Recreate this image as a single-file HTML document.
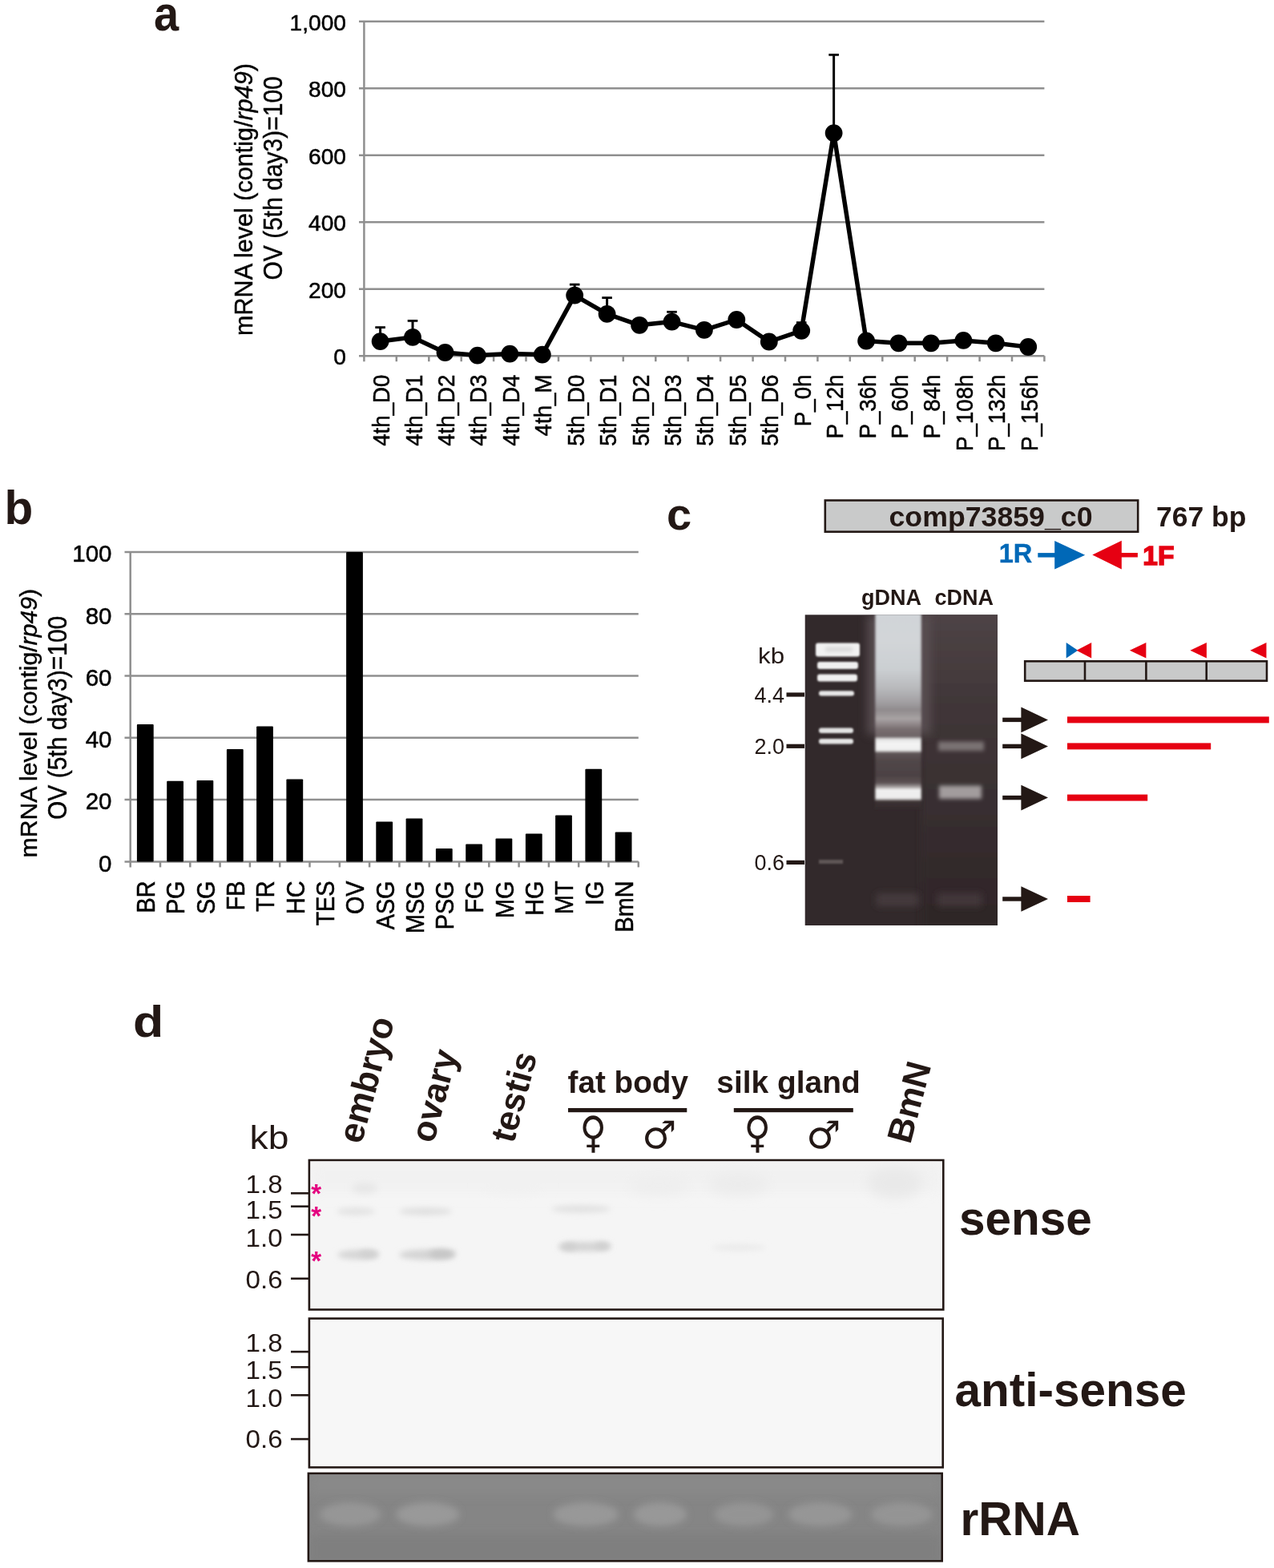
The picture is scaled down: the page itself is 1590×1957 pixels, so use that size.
<!DOCTYPE html>
<html><head><meta charset="utf-8"><title>Figure</title>
<style>
html,body{margin:0;padding:0;background:#fff;}
body{width:1590px;height:1957px;overflow:hidden;}
svg{display:block;font-family:"Liberation Sans", Arial, Helvetica, sans-serif;}
</style></head>
<body>
<svg width="1590" height="1957" viewBox="0 0 1590 1957">
<line x1="448" y1="444.2" x2="1303.4" y2="444.2" stroke="#8f8f8f" stroke-width="2.5"/>
<line x1="448" y1="360.7" x2="1303.4" y2="360.7" stroke="#8f8f8f" stroke-width="2.5"/>
<line x1="448" y1="277.2" x2="1303.4" y2="277.2" stroke="#8f8f8f" stroke-width="2.5"/>
<line x1="448" y1="193.7" x2="1303.4" y2="193.7" stroke="#8f8f8f" stroke-width="2.5"/>
<line x1="448" y1="110.2" x2="1303.4" y2="110.2" stroke="#8f8f8f" stroke-width="2.5"/>
<line x1="448" y1="26.7" x2="1303.4" y2="26.7" stroke="#8f8f8f" stroke-width="2.5"/>
<line x1="454.4" y1="26.7" x2="454.4" y2="451.2" stroke="#8f8f8f" stroke-width="2.5"/>
<line x1="494.8" y1="444.2" x2="494.8" y2="451.2" stroke="#8f8f8f" stroke-width="2.5"/>
<line x1="535.3" y1="444.2" x2="535.3" y2="451.2" stroke="#8f8f8f" stroke-width="2.5"/>
<line x1="575.7" y1="444.2" x2="575.7" y2="451.2" stroke="#8f8f8f" stroke-width="2.5"/>
<line x1="616.1" y1="444.2" x2="616.1" y2="451.2" stroke="#8f8f8f" stroke-width="2.5"/>
<line x1="656.5" y1="444.2" x2="656.5" y2="451.2" stroke="#8f8f8f" stroke-width="2.5"/>
<line x1="697.0" y1="444.2" x2="697.0" y2="451.2" stroke="#8f8f8f" stroke-width="2.5"/>
<line x1="737.4" y1="444.2" x2="737.4" y2="451.2" stroke="#8f8f8f" stroke-width="2.5"/>
<line x1="777.8" y1="444.2" x2="777.8" y2="451.2" stroke="#8f8f8f" stroke-width="2.5"/>
<line x1="818.3" y1="444.2" x2="818.3" y2="451.2" stroke="#8f8f8f" stroke-width="2.5"/>
<line x1="858.7" y1="444.2" x2="858.7" y2="451.2" stroke="#8f8f8f" stroke-width="2.5"/>
<line x1="899.1" y1="444.2" x2="899.1" y2="451.2" stroke="#8f8f8f" stroke-width="2.5"/>
<line x1="939.6" y1="444.2" x2="939.6" y2="451.2" stroke="#8f8f8f" stroke-width="2.5"/>
<line x1="980.0" y1="444.2" x2="980.0" y2="451.2" stroke="#8f8f8f" stroke-width="2.5"/>
<line x1="1020.4" y1="444.2" x2="1020.4" y2="451.2" stroke="#8f8f8f" stroke-width="2.5"/>
<line x1="1060.8" y1="444.2" x2="1060.8" y2="451.2" stroke="#8f8f8f" stroke-width="2.5"/>
<line x1="1101.3" y1="444.2" x2="1101.3" y2="451.2" stroke="#8f8f8f" stroke-width="2.5"/>
<line x1="1141.7" y1="444.2" x2="1141.7" y2="451.2" stroke="#8f8f8f" stroke-width="2.5"/>
<line x1="1182.1" y1="444.2" x2="1182.1" y2="451.2" stroke="#8f8f8f" stroke-width="2.5"/>
<line x1="1222.6" y1="444.2" x2="1222.6" y2="451.2" stroke="#8f8f8f" stroke-width="2.5"/>
<line x1="1263.0" y1="444.2" x2="1263.0" y2="451.2" stroke="#8f8f8f" stroke-width="2.5"/>
<line x1="1303.4" y1="444.2" x2="1303.4" y2="451.2" stroke="#8f8f8f" stroke-width="2.5"/>
<text transform="translate(432.0,455.4) scale(1.02,1.0)" font-size="27.6" font-weight="normal" text-anchor="end" fill="#000"  stroke="#000" stroke-width="0.5" style="">0</text>
<text transform="translate(432.0,371.9) scale(1.02,1.0)" font-size="27.6" font-weight="normal" text-anchor="end" fill="#000"  stroke="#000" stroke-width="0.5" style="">200</text>
<text transform="translate(432.0,288.4) scale(1.02,1.0)" font-size="27.6" font-weight="normal" text-anchor="end" fill="#000"  stroke="#000" stroke-width="0.5" style="">400</text>
<text transform="translate(432.0,204.9) scale(1.02,1.0)" font-size="27.6" font-weight="normal" text-anchor="end" fill="#000"  stroke="#000" stroke-width="0.5" style="">600</text>
<text transform="translate(432.0,121.4) scale(1.02,1.0)" font-size="27.6" font-weight="normal" text-anchor="end" fill="#000"  stroke="#000" stroke-width="0.5" style="">800</text>
<text transform="translate(432.0,37.9) scale(1.02,1.0)" font-size="27.6" font-weight="normal" text-anchor="end" fill="#000"  stroke="#000" stroke-width="0.5" style="">1,000</text>
<text transform="translate(315.3,419.0) rotate(-90)" font-size="30.6" font-weight="normal" text-anchor="start" fill="#000" stroke="#000" stroke-width="0.4" style="">mRNA level (contig/<tspan font-style="italic">rp49</tspan>)</text>
<text transform="translate(351.6,349.5) rotate(-90) scale(1,1.08)" font-size="30.0" font-weight="normal" text-anchor="start" fill="#000" stroke="#000" stroke-width="0.4" style="">OV (5th day3)=100</text>
<line x1="474.6" y1="408.6" x2="474.6" y2="426.1" stroke="#000" stroke-width="3"/>
<line x1="468.3" y1="408.6" x2="480.9" y2="408.6" stroke="#000" stroke-width="2.8"/>
<line x1="515.0" y1="400.4" x2="515.0" y2="420.9" stroke="#000" stroke-width="3"/>
<line x1="508.7" y1="400.4" x2="521.3" y2="400.4" stroke="#000" stroke-width="2.8"/>
<line x1="717.2" y1="355.1" x2="717.2" y2="368.6" stroke="#000" stroke-width="3"/>
<line x1="710.9" y1="355.1" x2="723.5" y2="355.1" stroke="#000" stroke-width="2.8"/>
<line x1="757.6" y1="371.6" x2="757.6" y2="391.9" stroke="#000" stroke-width="3"/>
<line x1="751.3" y1="371.6" x2="763.9" y2="371.6" stroke="#000" stroke-width="2.8"/>
<line x1="838.5" y1="389.3" x2="838.5" y2="401.6" stroke="#000" stroke-width="3"/>
<line x1="832.2" y1="389.3" x2="844.8" y2="389.3" stroke="#000" stroke-width="2.8"/>
<line x1="1000.2" y1="402.6" x2="1000.2" y2="412.8" stroke="#000" stroke-width="3"/>
<line x1="993.9" y1="402.6" x2="1006.5" y2="402.6" stroke="#000" stroke-width="2.8"/>
<line x1="1040.6" y1="68.4" x2="1040.6" y2="166.1" stroke="#000" stroke-width="3"/>
<line x1="1034.3" y1="68.4" x2="1046.9" y2="68.4" stroke="#000" stroke-width="2.8"/>
<polyline points="474.6,426.1 515.0,420.9 555.5,440.0 595.9,443.6 636.3,441.6 676.8,442.6 717.2,368.6 757.6,391.9 798.1,405.8 838.5,401.6 878.9,411.8 919.3,399.0 959.8,426.5 1000.2,412.8 1040.6,166.1 1081.1,425.5 1121.5,428.3 1161.9,428.3 1202.4,424.9 1242.8,428.3 1283.2,433.0" fill="none" stroke="#000" stroke-width="5.5" stroke-linejoin="round"/>
<circle cx="474.6" cy="426.1" r="10.9" fill="#000"/>
<circle cx="515.0" cy="420.9" r="10.9" fill="#000"/>
<circle cx="555.5" cy="440.0" r="10.9" fill="#000"/>
<circle cx="595.9" cy="443.6" r="10.9" fill="#000"/>
<circle cx="636.3" cy="441.6" r="10.9" fill="#000"/>
<circle cx="676.8" cy="442.6" r="10.9" fill="#000"/>
<circle cx="717.2" cy="368.6" r="10.9" fill="#000"/>
<circle cx="757.6" cy="391.9" r="10.9" fill="#000"/>
<circle cx="798.1" cy="405.8" r="10.9" fill="#000"/>
<circle cx="838.5" cy="401.6" r="10.9" fill="#000"/>
<circle cx="878.9" cy="411.8" r="10.9" fill="#000"/>
<circle cx="919.3" cy="399.0" r="10.9" fill="#000"/>
<circle cx="959.8" cy="426.5" r="10.9" fill="#000"/>
<circle cx="1000.2" cy="412.8" r="10.9" fill="#000"/>
<circle cx="1040.6" cy="166.1" r="10.9" fill="#000"/>
<circle cx="1081.1" cy="425.5" r="10.9" fill="#000"/>
<circle cx="1121.5" cy="428.3" r="10.9" fill="#000"/>
<circle cx="1161.9" cy="428.3" r="10.9" fill="#000"/>
<circle cx="1202.4" cy="424.9" r="10.9" fill="#000"/>
<circle cx="1242.8" cy="428.3" r="10.9" fill="#000"/>
<circle cx="1283.2" cy="433.0" r="10.9" fill="#000"/>
<text transform="translate(486.1,467.5) rotate(-90) scale(1,1.05)" font-size="27.7" font-weight="normal" text-anchor="end" fill="#000" stroke="#000" stroke-width="0.5" style="">4th_D0</text>
<text transform="translate(526.5,467.5) rotate(-90) scale(1,1.05)" font-size="27.7" font-weight="normal" text-anchor="end" fill="#000" stroke="#000" stroke-width="0.5" style="">4th_D1</text>
<text transform="translate(567.0,467.5) rotate(-90) scale(1,1.05)" font-size="27.7" font-weight="normal" text-anchor="end" fill="#000" stroke="#000" stroke-width="0.5" style="">4th_D2</text>
<text transform="translate(607.4,467.5) rotate(-90) scale(1,1.05)" font-size="27.7" font-weight="normal" text-anchor="end" fill="#000" stroke="#000" stroke-width="0.5" style="">4th_D3</text>
<text transform="translate(647.8,467.5) rotate(-90) scale(1,1.05)" font-size="27.7" font-weight="normal" text-anchor="end" fill="#000" stroke="#000" stroke-width="0.5" style="">4th_D4</text>
<text transform="translate(688.3,467.5) rotate(-90) scale(1,1.05)" font-size="27.7" font-weight="normal" text-anchor="end" fill="#000" stroke="#000" stroke-width="0.5" style="">4th_M</text>
<text transform="translate(728.7,467.5) rotate(-90) scale(1,1.05)" font-size="27.7" font-weight="normal" text-anchor="end" fill="#000" stroke="#000" stroke-width="0.5" style="">5th_D0</text>
<text transform="translate(769.1,467.5) rotate(-90) scale(1,1.05)" font-size="27.7" font-weight="normal" text-anchor="end" fill="#000" stroke="#000" stroke-width="0.5" style="">5th_D1</text>
<text transform="translate(809.6,467.5) rotate(-90) scale(1,1.05)" font-size="27.7" font-weight="normal" text-anchor="end" fill="#000" stroke="#000" stroke-width="0.5" style="">5th_D2</text>
<text transform="translate(850.0,467.5) rotate(-90) scale(1,1.05)" font-size="27.7" font-weight="normal" text-anchor="end" fill="#000" stroke="#000" stroke-width="0.5" style="">5th_D3</text>
<text transform="translate(890.4,467.5) rotate(-90) scale(1,1.05)" font-size="27.7" font-weight="normal" text-anchor="end" fill="#000" stroke="#000" stroke-width="0.5" style="">5th_D4</text>
<text transform="translate(930.8,467.5) rotate(-90) scale(1,1.05)" font-size="27.7" font-weight="normal" text-anchor="end" fill="#000" stroke="#000" stroke-width="0.5" style="">5th_D5</text>
<text transform="translate(971.3,467.5) rotate(-90) scale(1,1.05)" font-size="27.7" font-weight="normal" text-anchor="end" fill="#000" stroke="#000" stroke-width="0.5" style="">5th_D6</text>
<text transform="translate(1011.7,467.5) rotate(-90) scale(1,1.05)" font-size="27.7" font-weight="normal" text-anchor="end" fill="#000" stroke="#000" stroke-width="0.5" style="">P_0h</text>
<text transform="translate(1052.1,467.5) rotate(-90) scale(1,1.05)" font-size="27.7" font-weight="normal" text-anchor="end" fill="#000" stroke="#000" stroke-width="0.5" style="">P_12h</text>
<text transform="translate(1092.6,467.5) rotate(-90) scale(1,1.05)" font-size="27.7" font-weight="normal" text-anchor="end" fill="#000" stroke="#000" stroke-width="0.5" style="">P_36h</text>
<text transform="translate(1133.0,467.5) rotate(-90) scale(1,1.05)" font-size="27.7" font-weight="normal" text-anchor="end" fill="#000" stroke="#000" stroke-width="0.5" style="">P_60h</text>
<text transform="translate(1173.4,467.5) rotate(-90) scale(1,1.05)" font-size="27.7" font-weight="normal" text-anchor="end" fill="#000" stroke="#000" stroke-width="0.5" style="">P_84h</text>
<text transform="translate(1213.9,467.5) rotate(-90) scale(1,1.05)" font-size="27.7" font-weight="normal" text-anchor="end" fill="#000" stroke="#000" stroke-width="0.5" style="">P_108h</text>
<text transform="translate(1254.3,467.5) rotate(-90) scale(1,1.05)" font-size="27.7" font-weight="normal" text-anchor="end" fill="#000" stroke="#000" stroke-width="0.5" style="">P_132h</text>
<text transform="translate(1294.7,467.5) rotate(-90) scale(1,1.05)" font-size="27.7" font-weight="normal" text-anchor="end" fill="#000" stroke="#000" stroke-width="0.5" style="">P_156h</text>
<text transform="translate(192.0,38.4) scale(1.0,1.1)" font-size="56" font-weight="bold" text-anchor="start" fill="#231815"  style="">a</text>
<line x1="155.5" y1="1075.4" x2="796.8" y2="1075.4" stroke="#8f8f8f" stroke-width="2.5"/>
<line x1="155.5" y1="998.1" x2="796.8" y2="998.1" stroke="#8f8f8f" stroke-width="2.5"/>
<line x1="155.5" y1="920.8" x2="796.8" y2="920.8" stroke="#8f8f8f" stroke-width="2.5"/>
<line x1="155.5" y1="843.5" x2="796.8" y2="843.5" stroke="#8f8f8f" stroke-width="2.5"/>
<line x1="155.5" y1="766.2" x2="796.8" y2="766.2" stroke="#8f8f8f" stroke-width="2.5"/>
<line x1="155.5" y1="688.9" x2="796.8" y2="688.9" stroke="#8f8f8f" stroke-width="2.5"/>
<line x1="162.7" y1="688.9" x2="162.7" y2="1082.4" stroke="#8f8f8f" stroke-width="2.5"/>
<line x1="200.0" y1="1075.4" x2="200.0" y2="1082.4" stroke="#8f8f8f" stroke-width="2.5"/>
<line x1="237.3" y1="1075.4" x2="237.3" y2="1082.4" stroke="#8f8f8f" stroke-width="2.5"/>
<line x1="274.6" y1="1075.4" x2="274.6" y2="1082.4" stroke="#8f8f8f" stroke-width="2.5"/>
<line x1="311.9" y1="1075.4" x2="311.9" y2="1082.4" stroke="#8f8f8f" stroke-width="2.5"/>
<line x1="349.2" y1="1075.4" x2="349.2" y2="1082.4" stroke="#8f8f8f" stroke-width="2.5"/>
<line x1="386.5" y1="1075.4" x2="386.5" y2="1082.4" stroke="#8f8f8f" stroke-width="2.5"/>
<line x1="423.8" y1="1075.4" x2="423.8" y2="1082.4" stroke="#8f8f8f" stroke-width="2.5"/>
<line x1="461.1" y1="1075.4" x2="461.1" y2="1082.4" stroke="#8f8f8f" stroke-width="2.5"/>
<line x1="498.4" y1="1075.4" x2="498.4" y2="1082.4" stroke="#8f8f8f" stroke-width="2.5"/>
<line x1="535.7" y1="1075.4" x2="535.7" y2="1082.4" stroke="#8f8f8f" stroke-width="2.5"/>
<line x1="573.0" y1="1075.4" x2="573.0" y2="1082.4" stroke="#8f8f8f" stroke-width="2.5"/>
<line x1="610.3" y1="1075.4" x2="610.3" y2="1082.4" stroke="#8f8f8f" stroke-width="2.5"/>
<line x1="647.6" y1="1075.4" x2="647.6" y2="1082.4" stroke="#8f8f8f" stroke-width="2.5"/>
<line x1="684.9" y1="1075.4" x2="684.9" y2="1082.4" stroke="#8f8f8f" stroke-width="2.5"/>
<line x1="722.2" y1="1075.4" x2="722.2" y2="1082.4" stroke="#8f8f8f" stroke-width="2.5"/>
<line x1="759.5" y1="1075.4" x2="759.5" y2="1082.4" stroke="#8f8f8f" stroke-width="2.5"/>
<line x1="796.8" y1="1075.4" x2="796.8" y2="1082.4" stroke="#8f8f8f" stroke-width="2.5"/>
<text x="139.5" y="1087.7" font-size="29.5" font-weight="normal" text-anchor="end" fill="#000"  stroke="#000" stroke-width="0.5" style="">0</text>
<text x="139.5" y="1010.4" font-size="29.5" font-weight="normal" text-anchor="end" fill="#000"  stroke="#000" stroke-width="0.5" style="">20</text>
<text x="139.5" y="933.1" font-size="29.5" font-weight="normal" text-anchor="end" fill="#000"  stroke="#000" stroke-width="0.5" style="">40</text>
<text x="139.5" y="855.8" font-size="29.5" font-weight="normal" text-anchor="end" fill="#000"  stroke="#000" stroke-width="0.5" style="">60</text>
<text x="139.5" y="778.5" font-size="29.5" font-weight="normal" text-anchor="end" fill="#000"  stroke="#000" stroke-width="0.5" style="">80</text>
<text x="139.5" y="701.2" font-size="29.5" font-weight="normal" text-anchor="end" fill="#000"  stroke="#000" stroke-width="0.5" style="">100</text>
<rect x="170.9" y="904.1" width="20.8" height="171.3" fill="#000" rx="1"/>
<text transform="translate(193.2,1099.5) rotate(-90) scale(1,1.07)" font-size="28.8" font-weight="normal" text-anchor="end" fill="#000" stroke="#000" stroke-width="0.5" style="">BR</text>
<rect x="208.2" y="974.7" width="20.8" height="100.7" fill="#000" rx="1"/>
<text transform="translate(230.4,1099.5) rotate(-90) scale(1,1.07)" font-size="28.8" font-weight="normal" text-anchor="end" fill="#000" stroke="#000" stroke-width="0.5" style="">PG</text>
<rect x="245.5" y="973.9" width="20.8" height="101.5" fill="#000" rx="1"/>
<text transform="translate(267.8,1099.5) rotate(-90) scale(1,1.07)" font-size="28.8" font-weight="normal" text-anchor="end" fill="#000" stroke="#000" stroke-width="0.5" style="">SG</text>
<rect x="282.9" y="935.0" width="20.8" height="140.4" fill="#000" rx="1"/>
<text transform="translate(305.1,1099.5) rotate(-90) scale(1,1.07)" font-size="28.8" font-weight="normal" text-anchor="end" fill="#000" stroke="#000" stroke-width="0.5" style="">FB</text>
<rect x="320.1" y="906.4" width="20.8" height="169.0" fill="#000" rx="1"/>
<text transform="translate(342.3,1099.5) rotate(-90) scale(1,1.07)" font-size="28.8" font-weight="normal" text-anchor="end" fill="#000" stroke="#000" stroke-width="0.5" style="">TR</text>
<rect x="357.4" y="972.4" width="20.8" height="103.0" fill="#000" rx="1"/>
<text transform="translate(379.6,1099.5) rotate(-90) scale(1,1.07)" font-size="28.8" font-weight="normal" text-anchor="end" fill="#000" stroke="#000" stroke-width="0.5" style="">HC</text>
<text transform="translate(416.9,1099.5) rotate(-90) scale(1,1.07)" font-size="28.8" font-weight="normal" text-anchor="end" fill="#000" stroke="#000" stroke-width="0.5" style="">TES</text>
<rect x="432.1" y="688.9" width="20.8" height="386.5" fill="#000" rx="1"/>
<text transform="translate(454.2,1099.5) rotate(-90) scale(1,1.07)" font-size="28.8" font-weight="normal" text-anchor="end" fill="#000" stroke="#000" stroke-width="0.5" style="">OV</text>
<rect x="469.3" y="1025.4" width="20.8" height="50.0" fill="#000" rx="1"/>
<text transform="translate(491.5,1099.5) rotate(-90) scale(1,1.07)" font-size="28.8" font-weight="normal" text-anchor="end" fill="#000" stroke="#000" stroke-width="0.5" style="">ASG</text>
<rect x="506.6" y="1021.4" width="20.8" height="54.0" fill="#000" rx="1"/>
<text transform="translate(528.8,1099.5) rotate(-90) scale(1,1.07)" font-size="28.8" font-weight="normal" text-anchor="end" fill="#000" stroke="#000" stroke-width="0.5" style="">MSG</text>
<rect x="543.9" y="1058.9" width="20.8" height="16.5" fill="#000" rx="1"/>
<text transform="translate(566.1,1099.5) rotate(-90) scale(1,1.07)" font-size="28.8" font-weight="normal" text-anchor="end" fill="#000" stroke="#000" stroke-width="0.5" style="">PSG</text>
<rect x="581.2" y="1053.6" width="20.8" height="21.8" fill="#000" rx="1"/>
<text transform="translate(603.4,1099.5) rotate(-90) scale(1,1.07)" font-size="28.8" font-weight="normal" text-anchor="end" fill="#000" stroke="#000" stroke-width="0.5" style="">FG</text>
<rect x="618.5" y="1046.5" width="20.8" height="28.9" fill="#000" rx="1"/>
<text transform="translate(640.7,1099.5) rotate(-90) scale(1,1.07)" font-size="28.8" font-weight="normal" text-anchor="end" fill="#000" stroke="#000" stroke-width="0.5" style="">MG</text>
<rect x="655.9" y="1040.6" width="20.8" height="34.8" fill="#000" rx="1"/>
<text transform="translate(678.0,1099.5) rotate(-90) scale(1,1.07)" font-size="28.8" font-weight="normal" text-anchor="end" fill="#000" stroke="#000" stroke-width="0.5" style="">HG</text>
<rect x="693.1" y="1017.5" width="20.8" height="57.9" fill="#000" rx="1"/>
<text transform="translate(715.3,1099.5) rotate(-90) scale(1,1.07)" font-size="28.8" font-weight="normal" text-anchor="end" fill="#000" stroke="#000" stroke-width="0.5" style="">MT</text>
<rect x="730.4" y="959.8" width="20.8" height="115.6" fill="#000" rx="1"/>
<text transform="translate(752.6,1099.5) rotate(-90) scale(1,1.07)" font-size="28.8" font-weight="normal" text-anchor="end" fill="#000" stroke="#000" stroke-width="0.5" style="">IG</text>
<rect x="767.7" y="1038.6" width="20.8" height="36.8" fill="#000" rx="1"/>
<text transform="translate(789.9,1099.5) rotate(-90) scale(1,1.07)" font-size="28.8" font-weight="normal" text-anchor="end" fill="#000" stroke="#000" stroke-width="0.5" style="">BmN</text>
<text transform="translate(45.5,1070.5) rotate(-90)" font-size="30.2" font-weight="normal" text-anchor="start" fill="#000" stroke="#000" stroke-width="0.4" style="">mRNA level (contig/<tspan font-style="italic">rp49</tspan>)</text>
<text transform="translate(83.0,1023.0) rotate(-90) scale(1,1.08)" font-size="30.0" font-weight="normal" text-anchor="start" fill="#000" stroke="#000" stroke-width="0.4" style="">OV (5th day3)=100</text>
<text x="5.5" y="653.5" font-size="58.5" font-weight="bold" text-anchor="start" fill="#231815"  style="">b</text>
<text x="832.0" y="660.5" font-size="56" font-weight="bold" text-anchor="start" fill="#231815"  style="">c</text>
<rect x="1029.8" y="624.5" width="390.4" height="39.2" fill="#c9caca" stroke="#231815" stroke-width="2.6"/>
<text x="1236.5" y="657.2" font-size="35.7" font-weight="bold" text-anchor="middle" fill="#231815"  style="">comp73859_c0</text>
<text x="1443.0" y="657.2" font-size="35.5" font-weight="bold" text-anchor="start" fill="#231815"  style="">767 bp</text>
<text x="1246.8" y="702.3" font-size="32.5" font-weight="bold" text-anchor="start" fill="#0068b7"  stroke="#0068b7" stroke-width="0.4" style="">1R</text>
<text x="1426.3" y="705.3" font-size="33.5" font-weight="bold" text-anchor="start" fill="#e60012"  stroke="#e60012" stroke-width="1.5" style="">1F</text>
<rect x="1295.3" y="690.1" width="22" height="5.5" fill="#0068b7"/>
<polygon points="1316.2,675 1354.2,692.8 1316.2,710.6" fill="#0068b7"/>
<polygon points="1399.8,674.7 1363.3,692.6 1399.8,710.6" fill="#e60012"/>
<rect x="1398.8" y="690.0" width="21.1" height="5.5" fill="#e60012"/>
<text x="1075.0" y="755.3" font-size="27" font-weight="bold" text-anchor="start" fill="#231815"  style="">gDNA</text>
<text x="1166.5" y="755.3" font-size="27" font-weight="bold" text-anchor="start" fill="#231815"  style="">cDNA</text>
<text transform="translate(946.0,827.9) scale(1.12,1.0)" font-size="28" font-weight="normal" text-anchor="start" fill="#231815"  style="">kb</text>
<text x="979.0" y="877.0" font-size="27" font-weight="normal" text-anchor="end" fill="#231815"  style="">4.4</text>
<rect x="981.5" y="864.4" width="22.5" height="5.2" fill="#231815"/>
<text x="979.0" y="941.3" font-size="27" font-weight="normal" text-anchor="end" fill="#231815"  style="">2.0</text>
<rect x="981.5" y="928.7" width="22.5" height="5.2" fill="#231815"/>
<text x="979.0" y="1086.4" font-size="27" font-weight="normal" text-anchor="end" fill="#231815"  style="">0.6</text>
<rect x="981.5" y="1073.8" width="22.5" height="5.2" fill="#231815"/>
<defs>
<filter id="b1" filterUnits="userSpaceOnUse" x="0" y="0" width="1590" height="1957"><feGaussianBlur stdDeviation="1.2"/></filter>
<filter id="b2" filterUnits="userSpaceOnUse" x="0" y="0" width="1590" height="1957"><feGaussianBlur stdDeviation="2.5"/></filter>
<filter id="b3" filterUnits="userSpaceOnUse" x="0" y="0" width="1590" height="1957"><feGaussianBlur stdDeviation="3.5"/></filter>
<filter id="b4" filterUnits="userSpaceOnUse" x="0" y="0" width="1590" height="1957"><feGaussianBlur stdDeviation="4"/></filter>
<filter id="b6" filterUnits="userSpaceOnUse" x="0" y="0" width="1590" height="1957"><feGaussianBlur stdDeviation="6"/></filter>
<filter id="b8" filterUnits="userSpaceOnUse" x="0" y="0" width="1590" height="1957"><feGaussianBlur stdDeviation="8"/></filter>
<filter id="bx" filterUnits="userSpaceOnUse" x="0" y="0" width="1590" height="1957"><feGaussianBlur stdDeviation="1.6 0.8"/></filter>
<linearGradient id="glane" gradientUnits="userSpaceOnUse" x1="0" y1="767" x2="0" y2="1010"><stop offset="0.0000" stop-color="#d0d4d8"/>
<stop offset="0.1358" stop-color="#d2d5d8"/>
<stop offset="0.2798" stop-color="#cbcfd2"/>
<stop offset="0.3745" stop-color="#b9babd"/>
<stop offset="0.4486" stop-color="#a2a0a3"/>
<stop offset="0.4897" stop-color="#908b8d"/>
<stop offset="0.5144" stop-color="#9c9798"/>
<stop offset="0.5350" stop-color="#a8a3a4"/>
<stop offset="0.5556" stop-color="#978f91"/>
<stop offset="0.5885" stop-color="#786e70"/>
<stop offset="0.6255" stop-color="#6e6466"/>
<stop offset="0.6420" stop-color="#e4e4e4"/>
<stop offset="0.6626" stop-color="#f4f4f4"/>
<stop offset="0.6955" stop-color="#efefef"/>
<stop offset="0.7119" stop-color="#5e5456"/>
<stop offset="0.7531" stop-color="#504648"/>
<stop offset="0.8272" stop-color="#4c4244"/>
<stop offset="0.8642" stop-color="#5c5254"/>
<stop offset="0.8848" stop-color="#a29c9c"/>
<stop offset="0.9012" stop-color="#f0f0f0"/>
<stop offset="0.9424" stop-color="#ececec"/>
<stop offset="0.9588" stop-color="#3c3233"/>
<stop offset="1.0000" stop-color="#342a2c"/></linearGradient>
<linearGradient id="clane" gradientUnits="userSpaceOnUse" x1="0" y1="767" x2="0" y2="1010"><stop offset="0.0000" stop-color="#3b3133"/>
<stop offset="0.5473" stop-color="#33292b"/>
<stop offset="0.6379" stop-color="#3a3032"/>
<stop offset="0.6543" stop-color="#6e6667"/>
<stop offset="0.6749" stop-color="#7d7576"/>
<stop offset="0.6996" stop-color="#5a5052"/>
<stop offset="0.7202" stop-color="#342a2c"/>
<stop offset="0.8436" stop-color="#382e30"/>
<stop offset="0.8765" stop-color="#6c6465"/>
<stop offset="0.9012" stop-color="#9e9899"/>
<stop offset="0.9342" stop-color="#a19b9c"/>
<stop offset="0.9547" stop-color="#3c3234"/>
<stop offset="1.0000" stop-color="#33292b"/></linearGradient>
<linearGradient id="rgt" gradientUnits="userSpaceOnUse" x1="0" y1="767" x2="0" y2="1155"><stop offset="0" stop-color="#4e4446"/><stop offset="0.3" stop-color="#403638"/><stop offset="1" stop-color="#2e2527"/></linearGradient>
<clipPath id="gelclip"><rect x="1004.7" y="767.3" width="240.3" height="387.7"/></clipPath>
</defs>
<rect x="1004.7" y="767.3" width="240.3" height="387.7" fill="#32292b"/>
<g clip-path="url(#gelclip)">
<rect x="1150" y="760" width="110" height="400" fill="url(#rgt)" filter="url(#b4)"/>
<rect x="1171" y="925.5" width="57" height="11.5" fill="#7a7273" filter="url(#b2)"/>
<rect x="1172" y="980.5" width="53" height="16.5" fill="#a29c9d" filter="url(#b2)"/>
<rect x="1082" y="767" width="80" height="150" fill="#5a5052" filter="url(#b6)" opacity="0.9"/>
<rect x="1092.3" y="760" width="57.5" height="250" fill="url(#glane)" filter="url(#bx)"/>
<rect x="1094" y="1115" width="52" height="16" fill="#443a3c" filter="url(#b4)"/>
<rect x="1170" y="1115" width="55" height="16" fill="#42383a" filter="url(#b4)"/>
<rect x="1018" y="802.5" width="55" height="17.0" rx="3" fill="#f2f2f2" filter="url(#b1)"/>
<rect x="1020" y="826" width="51" height="9.0" rx="3" fill="#f0f0f0" filter="url(#b1)"/>
<rect x="1020" y="841.5" width="50" height="9.0" rx="3" fill="#f0f0f0" filter="url(#b1)"/>
<rect x="1022" y="862.3" width="44" height="6.2" rx="3" fill="#e8e8e8" filter="url(#b1)"/>
<rect x="1022" y="908.6" width="43" height="6.4" rx="3" fill="#e2e2e2" filter="url(#b1)"/>
<rect x="1022" y="922" width="43" height="6.4" rx="3" fill="#e6e6e6" filter="url(#b1)"/>
<rect x="1030" y="808" width="34" height="5" fill="#d4d4d4" filter="url(#b2)"/>
<rect x="1022" y="1073" width="30" height="5" fill="#5e5657" filter="url(#b1)"/>
</g>
<rect x="1279.2" y="825.3" width="301.8" height="24.4" fill="#c9caca" stroke="#231815" stroke-width="2.6"/>
<line x1="1354.0" y1="825.3" x2="1354.0" y2="849.7" stroke="#231815" stroke-width="2.6"/>
<line x1="1430.4" y1="825.3" x2="1430.4" y2="849.7" stroke="#231815" stroke-width="2.6"/>
<line x1="1505.7" y1="825.3" x2="1505.7" y2="849.7" stroke="#231815" stroke-width="2.6"/>
<polygon points="1330.7,802 1345.2,811.7 1330.7,821.4" fill="#0068b7"/>
<polygon points="1362.2,802 1343.5,811.7 1362.2,821.4" fill="#e60012"/>
<polygon points="1430.4,802 1409.9,811.7 1430.4,821.4" fill="#e60012"/>
<polygon points="1505.9,802 1485.4,811.7 1505.9,821.4" fill="#e60012"/>
<polygon points="1580.5,802 1560.3,811.7 1580.5,821.4" fill="#e60012"/>
<rect x="1251.2" y="895.7" width="25" height="5.4" fill="#231815"/>
<polygon points="1274.4,882.6 1308.0,898.4 1274.4,914.2" fill="#231815"/>
<rect x="1332" y="894.4" width="251.8" height="8" fill="#e60012"/>
<rect x="1251.2" y="928.7" width="25" height="5.4" fill="#231815"/>
<polygon points="1274.4,915.6 1308.0,931.4 1274.4,947.2" fill="#231815"/>
<rect x="1332" y="927.4" width="179.2" height="8" fill="#e60012"/>
<rect x="1251.2" y="992.9" width="25" height="5.4" fill="#231815"/>
<polygon points="1274.4,979.8 1308.0,995.6 1274.4,1011.4" fill="#231815"/>
<rect x="1332" y="991.6" width="100.2" height="8" fill="#e60012"/>
<rect x="1251.2" y="1119.3" width="25" height="5.4" fill="#231815"/>
<polygon points="1274.4,1106.2 1308.0,1122.0 1274.4,1137.8" fill="#231815"/>
<rect x="1332" y="1118.0" width="28.6" height="8" fill="#e60012"/>
<text transform="translate(166.0,1294.3) scale(1.12,1.0)" font-size="56" font-weight="bold" text-anchor="start" fill="#231815"  style="">d</text>
<text transform="translate(311.5,1433.6) scale(1.13,1.0)" font-size="41" font-weight="normal" text-anchor="start" fill="#231815"  style="">kb</text>
<text transform="translate(451.0,1429.0) rotate(-75)" font-size="44.5" font-weight="bold" text-anchor="start" fill="#231815" style="">embryo</text>
<text transform="translate(541.0,1428.0) rotate(-75)" font-size="44" font-weight="bold" text-anchor="start" fill="#231815" style="">ovary</text>
<text transform="translate(641.0,1428.0) rotate(-75)" font-size="43.8" font-weight="bold" text-anchor="start" fill="#231815" style="">testis</text>
<text transform="translate(1136.0,1429.0) rotate(-75)" font-size="44" font-weight="bold" text-anchor="start" fill="#231815" style="">BmN</text>
<text x="783.8" y="1364.0" font-size="38.7" font-weight="bold" text-anchor="middle" fill="#231815"  style="">fat body</text>
<text x="984.0" y="1364.0" font-size="38.9" font-weight="bold" text-anchor="middle" fill="#231815"  style="">silk gland</text>
<rect x="709" y="1383" width="148.3" height="5.2" fill="#231815"/>
<rect x="915.8" y="1383" width="149" height="5.2" fill="#231815"/>
<text transform="translate(740.3,1431.5) scale(0.95,1.136)" font-size="48" font-weight="normal" text-anchor="middle" fill="#231815"  style="font-family:DejaVu Sans">&#9792;</text>
<text transform="translate(945.3,1431.5) scale(0.95,1.136)" font-size="48" font-weight="normal" text-anchor="middle" fill="#231815"  style="font-family:DejaVu Sans">&#9792;</text>
<text x="822.8" y="1432.5" font-size="48" font-weight="normal" text-anchor="middle" fill="#231815"  style="font-family:DejaVu Sans">&#9794;</text>
<text x="1027.7" y="1432.5" font-size="48" font-weight="normal" text-anchor="middle" fill="#231815"  style="font-family:DejaVu Sans">&#9794;</text>
<rect x="385.9" y="1448" width="791.4" height="186.5" fill="#f5f5f5" stroke="#231815" stroke-width="2.6"/>
<clipPath id="sclip"><rect x="387" y="1449" width="789" height="184"/></clipPath><g clip-path="url(#sclip)">
<rect x="387" y="1449" width="789" height="40" fill="#efefef" filter="url(#b8)" opacity="0.6"/>
<ellipse cx="447" cy="1566" rx="26" ry="6" fill="#d6d6d6" filter="url(#b3)"/>
<ellipse cx="460" cy="1565" rx="12" ry="5" fill="#d0d0d0" filter="url(#b3)"/>
<ellipse cx="532" cy="1566" rx="34" ry="6.5" fill="#d4d4d4" filter="url(#b3)"/>
<ellipse cx="552" cy="1565" rx="17" ry="6" fill="#c6c6c6" filter="url(#b3)"/>
<ellipse cx="729" cy="1556" rx="33" ry="6" fill="#d4d4d4" filter="url(#b3)"/>
<ellipse cx="710" cy="1556" rx="10" ry="5" fill="#cfcfcf" filter="url(#b3)"/>
<ellipse cx="752" cy="1555" rx="10" ry="5" fill="#cfcfcf" filter="url(#b3)"/>
<ellipse cx="922" cy="1557" rx="34" ry="4" fill="#eaeaea" filter="url(#b3)"/>
<ellipse cx="444" cy="1512" rx="24" ry="5" fill="#e3e3e3" filter="url(#b3)"/>
<ellipse cx="531" cy="1512" rx="33" ry="5" fill="#e0e0e0" filter="url(#b3)"/>
<ellipse cx="725" cy="1509" rx="37" ry="5" fill="#e2e2e2" filter="url(#b3)"/>
<ellipse cx="455" cy="1483" rx="16" ry="7" fill="#e7e7e7" filter="url(#b4)"/>
<ellipse cx="1117" cy="1476" rx="34" ry="20" fill="#e9e9e9" filter="url(#b8)"/>
<ellipse cx="922" cy="1478" rx="38" ry="14" fill="#ececec" filter="url(#b8)"/>
<ellipse cx="822" cy="1480" rx="38" ry="12" fill="#eeeeee" filter="url(#b8)"/>
<ellipse cx="640" cy="1480" rx="40" ry="10" fill="#f1f1f1" filter="url(#b8)"/>
</g>
<rect x="385.9" y="1645.6" width="790.8" height="185.8" fill="#f7f7f7" stroke="#231815" stroke-width="2.6"/>
<rect x="384.9" y="1838.9" width="790.8" height="109.4" fill="#858585" stroke="#231815" stroke-width="2.6"/>
<clipPath id="rclip"><rect x="386" y="1840" width="788" height="107"/></clipPath><g clip-path="url(#rclip)">
<rect x="386" y="1840" width="788" height="25" fill="#898989" filter="url(#b6)"/>
<ellipse cx="437.1" cy="1890" rx="38.2" ry="15" fill="#969696" filter="url(#b4)"/>
<ellipse cx="533.8" cy="1890" rx="39.5" ry="15" fill="#999999" filter="url(#b4)"/>
<ellipse cx="731.0" cy="1890" rx="40.8" ry="15" fill="#989898" filter="url(#b4)"/>
<ellipse cx="823.9" cy="1890" rx="33.1" ry="15" fill="#989898" filter="url(#b4)"/>
<ellipse cx="928.2" cy="1890" rx="37.0" ry="15" fill="#949494" filter="url(#b4)"/>
<ellipse cx="1023.7" cy="1890" rx="39.6" ry="15" fill="#969696" filter="url(#b4)"/>
<ellipse cx="1125.5" cy="1890" rx="38.2" ry="15" fill="#949494" filter="url(#b4)"/>
<rect x="386" y="1915" width="788" height="40" fill="#7e7e7e" filter="url(#b6)" opacity="0.8"/>
</g>
<rect x="363" y="1488.0" width="22" height="2.6" fill="#231815"/>
<rect x="363" y="1504.4" width="22" height="2.6" fill="#231815"/>
<rect x="363" y="1539.7" width="22" height="2.6" fill="#231815"/>
<rect x="363" y="1594.5" width="22" height="2.6" fill="#231815"/>
<rect x="363" y="1685.8" width="22" height="2.6" fill="#231815"/>
<rect x="363" y="1705.0" width="22" height="2.6" fill="#231815"/>
<rect x="363" y="1740.0" width="22" height="2.6" fill="#231815"/>
<rect x="363" y="1794.8" width="22" height="2.6" fill="#231815"/>
<text transform="translate(352.8,1489.3) scale(1.09,1.0)" font-size="30.5" font-weight="normal" text-anchor="end" fill="#231815"  style="">1.8</text>
<text transform="translate(352.8,1521.4) scale(1.09,1.0)" font-size="30.5" font-weight="normal" text-anchor="end" fill="#231815"  style="">1.5</text>
<text transform="translate(352.8,1555.7) scale(1.09,1.0)" font-size="30.5" font-weight="normal" text-anchor="end" fill="#231815"  style="">1.0</text>
<text transform="translate(352.8,1608.0) scale(1.09,1.0)" font-size="30.5" font-weight="normal" text-anchor="end" fill="#231815"  style="">0.6</text>
<text transform="translate(352.8,1687.1) scale(1.09,1.0)" font-size="30.5" font-weight="normal" text-anchor="end" fill="#231815"  style="">1.8</text>
<text transform="translate(352.8,1721.4) scale(1.09,1.0)" font-size="30.5" font-weight="normal" text-anchor="end" fill="#231815"  style="">1.5</text>
<text transform="translate(352.8,1755.7) scale(1.09,1.0)" font-size="30.5" font-weight="normal" text-anchor="end" fill="#231815"  style="">1.0</text>
<text transform="translate(352.8,1807.4) scale(1.09,1.0)" font-size="30.5" font-weight="normal" text-anchor="end" fill="#231815"  style="">0.6</text>
<text x="394.6" y="1501.2" font-size="33" font-weight="bold" text-anchor="middle" fill="#e4007f"  style="">*</text>
<text x="394.6" y="1528.8" font-size="33" font-weight="bold" text-anchor="middle" fill="#e4007f"  style="">*</text>
<text x="394.6" y="1585.4" font-size="33" font-weight="bold" text-anchor="middle" fill="#e4007f"  style="">*</text>
<text x="1197.0" y="1541.4" font-size="58.5" font-weight="bold" text-anchor="start" fill="#231815"  style="">sense</text>
<text x="1191.5" y="1754.9" font-size="58.5" font-weight="bold" text-anchor="start" fill="#231815"  style="">anti-sense</text>
<text x="1198.5" y="1916.3" font-size="58.5" font-weight="bold" text-anchor="start" fill="#231815"  style="">rRNA</text>
</svg>
</body></html>
